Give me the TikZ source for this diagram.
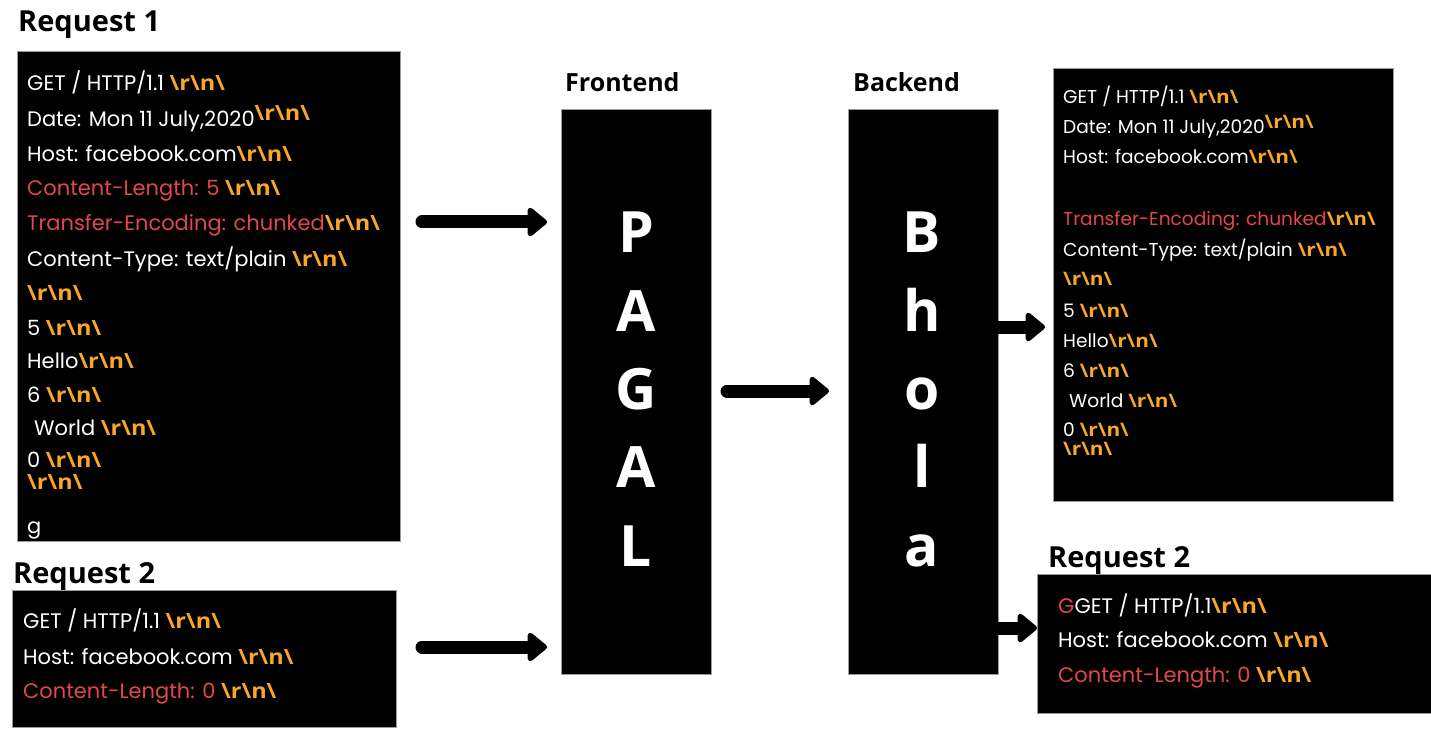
\documentclass[tikz,border=0pt]{standalone}
\usepackage{fontspec}
\setmainfont{Poppins}
\newfontfamily\headfont{Open Sans}
\newfontfamily\crlffont{Open Sans}[FakeStretch=1.12]
\usetikzlibrary{arrows.meta}
\definecolor{orng}{HTML}{F9A825}
\definecolor{rd}{HTML}{E2474B}
\definecolor{bordergray}{HTML}{9A9A9A}
\newcommand\crlf{{\crlffont\bfseries\color{orng}\textbackslash r\textbackslash n\textbackslash}}
\begin{document}
\begin{tikzpicture}[x=1pt,y=-1pt,
  blackbox/.style={draw=bordergray, line width=0.8pt, fill=black, anchor=north west, inner sep=0pt, outer sep=0pt},
  heading/.style={font=\headfont\bfseries\fontsize{25}{30}\selectfont, anchor=base west, inner sep=0pt},
  bigheading/.style={heading, font=\headfont\bfseries\fontsize{29}{34}\selectfont},
  reqline/.style={text=white, anchor=base west, inner sep=0pt, font=\fontsize{21}{25}\selectfont},
  smline/.style={text=white, anchor=base west, inner sep=0pt, font=\fontsize{18.6}{22}\selectfont},
  bigletter/.style={text=white, font=\headfont\bfseries\fontsize{57}{60}\selectfont, anchor=base, inner sep=0pt},
  bigarrow/.style={line width=13pt, line cap=round, -{Triangle[width=33pt,length=21pt,round]}}]
\useasboundingbox (0,0) rectangle (1431,743);
\fill[white] (0,0) rectangle (1431,743);

% headings
\node[bigheading] (h1) at (18,32) {Request 1};
\node[bigheading] (h2) at (13,583) {Request 2};
\node[bigheading] (h3) at (1048,567) {Request 2};
\node[heading] (hf) at (565,92) {Frontend};
\node[heading] (hb) at (853,92) {Backend};

% boxes
\node[blackbox, minimum width=383, minimum height=490] (req1) at (17,51) {};
\node[blackbox, minimum width=384, minimum height=137] (req2) at (12,590) {};
\node[blackbox, minimum width=150, minimum height=565] (fe) at (561,109) {};
\node[blackbox, minimum width=150, minimum height=565] (be) at (848,109) {};
\node[blackbox, minimum width=340, minimum height=433] (tr) at (1053,68) {};
\node[blackbox, minimum width=394, minimum height=139] (br) at (1037,574) {};

% big letters
\foreach \L/\y [count=\i] in {P/252,A/331,G/409,A/487,L/566}
  \node[bigletter] (fl\i) at (636,\y) {\L};
\foreach \L/\y [count=\i] in {B/252,h/331,o/409,l/487,a/566}
  \node[bigletter] (bl\i) at (922,\y) {\L};

% request 1 text
\node[reqline] (a1) at (27,91) {GET / HTTP/1.1 \crlf};
\node[reqline] (a2) at (27,127) {Date: Mon 11 July,2020\raisebox{6pt}{\crlf}};
\node[reqline] (a3) at (27,162) {Host: facebook.com\crlf};
\node[reqline] (a4) at (27,196) {{\color{rd}Content-Length: 5} \crlf};
\node[reqline] (a5) at (27,231) {{\color{rd}Transfer-Encoding: chunked}\crlf};
\node[reqline] (a6) at (27,266) {Content-Type: text/plain \crlf};
\node[reqline] (a7) at (27,300) {\crlf};
\node[reqline] (a8) at (27,335) {5 \crlf};
\node[reqline] (a9) at (27,368) {Hello\crlf};
\node[reqline] (a10) at (27,402) {6 \crlf};
\node[reqline] (a11) at (34,435) {World \crlf};
\node[reqline] (a12) at (27,467) {0 \crlf};
\node[reqline] (a13) at (27,489) {\crlf};
\node[reqline] (a14) at (27,533) {g};

% request 2 (left)
\node[reqline] (b1) at (23,628) {GET / HTTP/1.1 \crlf};
\node[reqline] (b2) at (23,664) {Host: facebook.com \crlf};
\node[reqline] (b3) at (23,698) {{\color{rd}Content-Length: 0} \crlf};

% top right text
\node[smline] (c1) at (1063,104) {GET / HTTP/1.1 \crlf};
\node[smline] (c2) at (1063,134) {Date: Mon 11 July,2020\raisebox{5pt}{\crlf}};
\node[smline] (c3) at (1063,164) {Host: facebook.com\crlf};
\node[smline] (c4) at (1063,226) {{\color{rd}Transfer-Encoding: chunked}\crlf};
\node[smline] (c5) at (1063,256) {Content-Type: text/plain \crlf};
\node[smline] (c6) at (1063,285) {\crlf};
\node[smline] (c7) at (1063,317) {5 \crlf};
\node[smline] (c8) at (1063,347) {Hello\crlf};
\node[smline] (c9) at (1063,377) {6 \crlf};
\node[smline] (c10) at (1069,407) {World \crlf};
\node[smline] (c11) at (1063,436) {0 \crlf};
\node[smline] (c12) at (1063,455) {\crlf};

% bottom right text
\node[reqline] (d1) at (1058,613) {{\color{rd}G}GET / HTTP/1.1\crlf};
\node[reqline] (d2) at (1058,647) {Host: facebook.com \crlf};
\node[reqline] (d3) at (1058,682) {{\color{rd}Content-Length: 0} \crlf};

% arrows
\draw[bigarrow] ([xshift=22pt]req1.east |- 0,222) -- ([xshift=-14pt]fe.west |- 0,222);
\draw[bigarrow] ([xshift=26pt]req2.east |- 0,647) -- ([xshift=-14pt]fe.west |- 0,647);
\draw[bigarrow] ([xshift=16pt]fe.east |- 0,391) -- ([xshift=-19pt]be.west |- 0,391);
\draw[bigarrow, line cap=butt] (be.east |- 0,327) -- ([xshift=-8pt]tr.west |- 0,327);
\draw[bigarrow, line cap=butt] (be.east |- 0,628) -- (br.west |- 0,628);
\end{tikzpicture}
\end{document}
